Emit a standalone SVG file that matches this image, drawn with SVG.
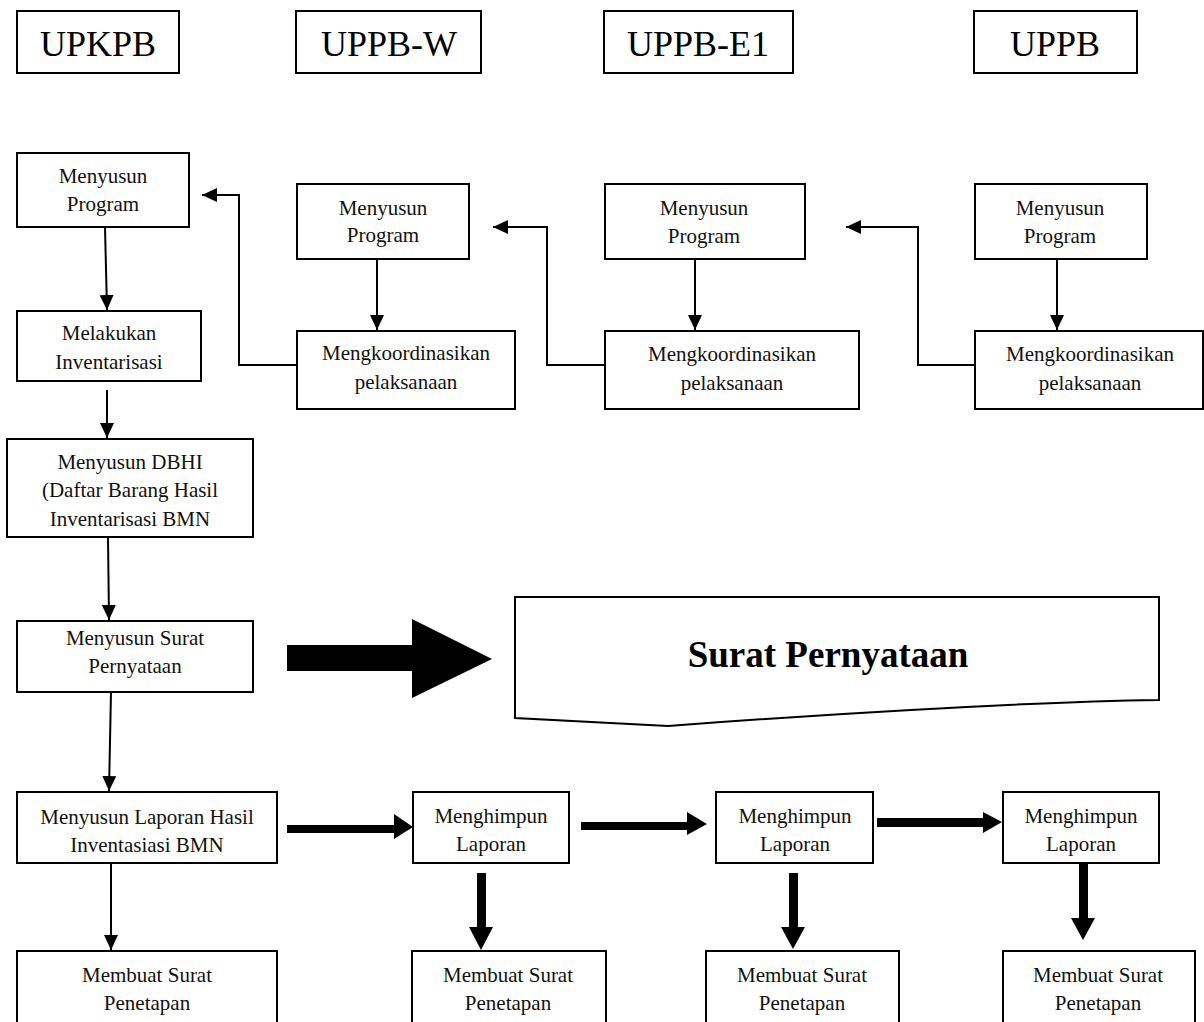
<svg xmlns="http://www.w3.org/2000/svg" width="1204" height="1022" viewBox="0 0 1204 1022">
<style>
  .box{fill:#fff;stroke:#000;stroke-width:2}
  .hd{font-family:"Liberation Serif","Times New Roman",serif;font-size:36px;fill:#000;text-anchor:middle}
  .t{font-family:"Liberation Serif","Times New Roman",serif;font-size:21px;fill:#111;text-anchor:middle}
  .big{font-family:"Liberation Serif","Times New Roman",serif;font-size:37px;font-weight:bold;fill:#000;text-anchor:middle}
  .ln{fill:none;stroke:#000;stroke-width:2}
  .arr{marker-end:url(#ah)}
  .blk{fill:#000;stroke:none}
</style>
<defs>
  <marker id="ah" markerUnits="userSpaceOnUse" markerWidth="16" markerHeight="14" refX="15" refY="7" orient="auto">
    <path d="M0,0 L15,7 L0,14 Z" fill="#000"/>
  </marker>
</defs>
<rect width="1204" height="1022" fill="#fff"/>

<g id="header-upkpb"><rect class="box" x="17" y="11" width="162" height="62"/><text class="hd" x="98" y="56">UPKPB</text></g>
<g id="header-uppb-w"><rect class="box" x="296" y="11" width="185" height="62"/><text class="hd" x="389" y="56">UPPB-W</text></g>
<g id="header-uppb-e1"><rect class="box" x="604" y="11" width="189" height="62"/><text class="hd" x="698" y="56">UPPB-E1</text></g>
<g id="header-uppb"><rect class="box" x="974" y="11" width="163" height="62"/><text class="hd" x="1055" y="56">UPPB</text></g>

<g id="connectors">
  <path class="ln arr" d="M105,227 L107,310"/>
  <path class="ln arr" d="M107,390 L107,438"/>
  <path class="ln arr" d="M108,537 L109,620"/>
  <path class="ln arr" d="M111,692 L109,791"/>
  <path class="ln arr" d="M111,863 L111,950"/>
  <path class="ln arr" d="M377,259 L377,330"/>
  <path class="ln arr" d="M695,259 L695,330"/>
  <path class="ln arr" d="M1057,259 L1057,330"/>
  <path class="ln arr" d="M297,365 H239 V195 H202"/>
  <path class="ln arr" d="M605,365 H547 V227 H493"/>
  <path class="ln arr" d="M975,365 H918 V227 H846"/>
  <polygon class="blk" points="287,645 412,645 412,619 492,659 412,698 412,671 287,671"/>
  <polygon class="blk" points="287,825 394,825 394,814 413,827 394,839 394,833 287,833"/>
  <polygon class="blk" points="581,822 687,822 687,812 707,824 687,835 687,830 581,830"/>
  <polygon class="blk" points="877,818 983,818 983,812 1002,822 983,833 983,827 877,827"/>
  <polygon class="blk" points="477,873 486,873 486,927 493,927 481,950 469,927 477,927"/>
  <polygon class="blk" points="789,873 798,873 798,927 805,927 793,949 781,927 789,927"/>
  <polygon class="blk" points="1079,862 1088,862 1088,918 1095,918 1083,940 1071,918 1079,918"/>
</g>

<g id="upkpb-menyusun-program"><rect class="box" x="17" y="153" width="172" height="74"/><text class="t" x="103" y="183">Menyusun</text><text class="t" x="103" y="211">Program</text></g>
<g id="upkpb-melakukan-inventarisasi"><rect class="box" x="17" y="311" width="184" height="70"/><text class="t" x="109" y="340">Melakukan</text><text class="t" x="109" y="369">Inventarisasi</text></g>
<g id="upkpb-menyusun-dbhi"><rect class="box" x="7" y="439" width="246" height="98"/><text class="t" x="130" y="469">Menyusun DBHI</text><text class="t" x="130" y="497">(Daftar Barang Hasil</text><text class="t" x="130" y="526">Inventarisasi BMN</text></g>
<g id="upkpb-menyusun-surat"><rect class="box" x="17" y="621" width="236" height="71"/><text class="t" x="135" y="645">Menyusun Surat</text><text class="t" x="135" y="673">Pernyataan</text></g>
<g id="upkpb-menyusun-laporan"><rect class="box" x="17" y="792" width="260" height="71"/><text class="t" x="147" y="824">Menyusun Laporan Hasil</text><text class="t" x="147" y="852">Inventasiasi BMN</text></g>
<g id="upkpb-membuat-surat"><rect class="box" x="17" y="951" width="260" height="80"/><text class="t" x="147" y="982">Membuat Surat</text><text class="t" x="147" y="1010">Penetapan</text></g>

<g id="uppbw-menyusun-program"><rect class="box" x="297" y="184" width="172" height="75"/><text class="t" x="383" y="215">Menyusun</text><text class="t" x="383" y="242">Program</text></g>
<g id="uppbw-mengkoordinasikan"><rect class="box" x="297" y="331" width="218" height="78"/><text class="t" x="406" y="360">Mengkoordinasikan</text><text class="t" x="406" y="389">pelaksanaan</text></g>
<g id="uppbe1-menyusun-program"><rect class="box" x="605" y="184" width="200" height="75"/><text class="t" x="704" y="215">Menyusun</text><text class="t" x="704" y="243">Program</text></g>
<g id="uppbe1-mengkoordinasikan"><rect class="box" x="605" y="331" width="254" height="78"/><text class="t" x="732" y="361">Mengkoordinasikan</text><text class="t" x="732" y="390">pelaksanaan</text></g>
<g id="uppb-menyusun-program"><rect class="box" x="975" y="184" width="172" height="75"/><text class="t" x="1060" y="215">Menyusun</text><text class="t" x="1060" y="243">Program</text></g>
<g id="uppb-mengkoordinasikan"><rect class="box" x="975" y="331" width="228" height="78"/><text class="t" x="1090" y="361">Mengkoordinasikan</text><text class="t" x="1090" y="390">pelaksanaan</text></g>

<g id="surat-pernyataan-doc"><path class="box" d="M515,597 L1159,597 L1159,700 C1020,702 800,716 668,726 L515,718 Z"/><text class="big" x="828" y="667">Surat Pernyataan</text></g>

<g id="uppbw-menghimpun"><rect class="box" x="413" y="792" width="156" height="71"/><text class="t" x="491" y="823">Menghimpun</text><text class="t" x="491" y="851">Laporan</text></g>
<g id="uppbw-membuat-surat"><rect class="box" x="412" y="951" width="194" height="80"/><text class="t" x="508" y="982">Membuat Surat</text><text class="t" x="508" y="1010">Penetapan</text></g>
<g id="uppbe1-menghimpun"><rect class="box" x="716" y="792" width="157" height="71"/><text class="t" x="795" y="823">Menghimpun</text><text class="t" x="795" y="851">Laporan</text></g>
<g id="uppbe1-membuat-surat"><rect class="box" x="706" y="951" width="193" height="80"/><text class="t" x="802" y="982">Membuat Surat</text><text class="t" x="802" y="1010">Penetapan</text></g>
<g id="uppb-menghimpun"><rect class="box" x="1003" y="792" width="156" height="71"/><text class="t" x="1081" y="823">Menghimpun</text><text class="t" x="1081" y="851">Laporan</text></g>
<g id="uppb-membuat-surat"><rect class="box" x="1003" y="951" width="192" height="80"/><text class="t" x="1098" y="982">Membuat Surat</text><text class="t" x="1098" y="1010">Penetapan</text></g>
</svg>
